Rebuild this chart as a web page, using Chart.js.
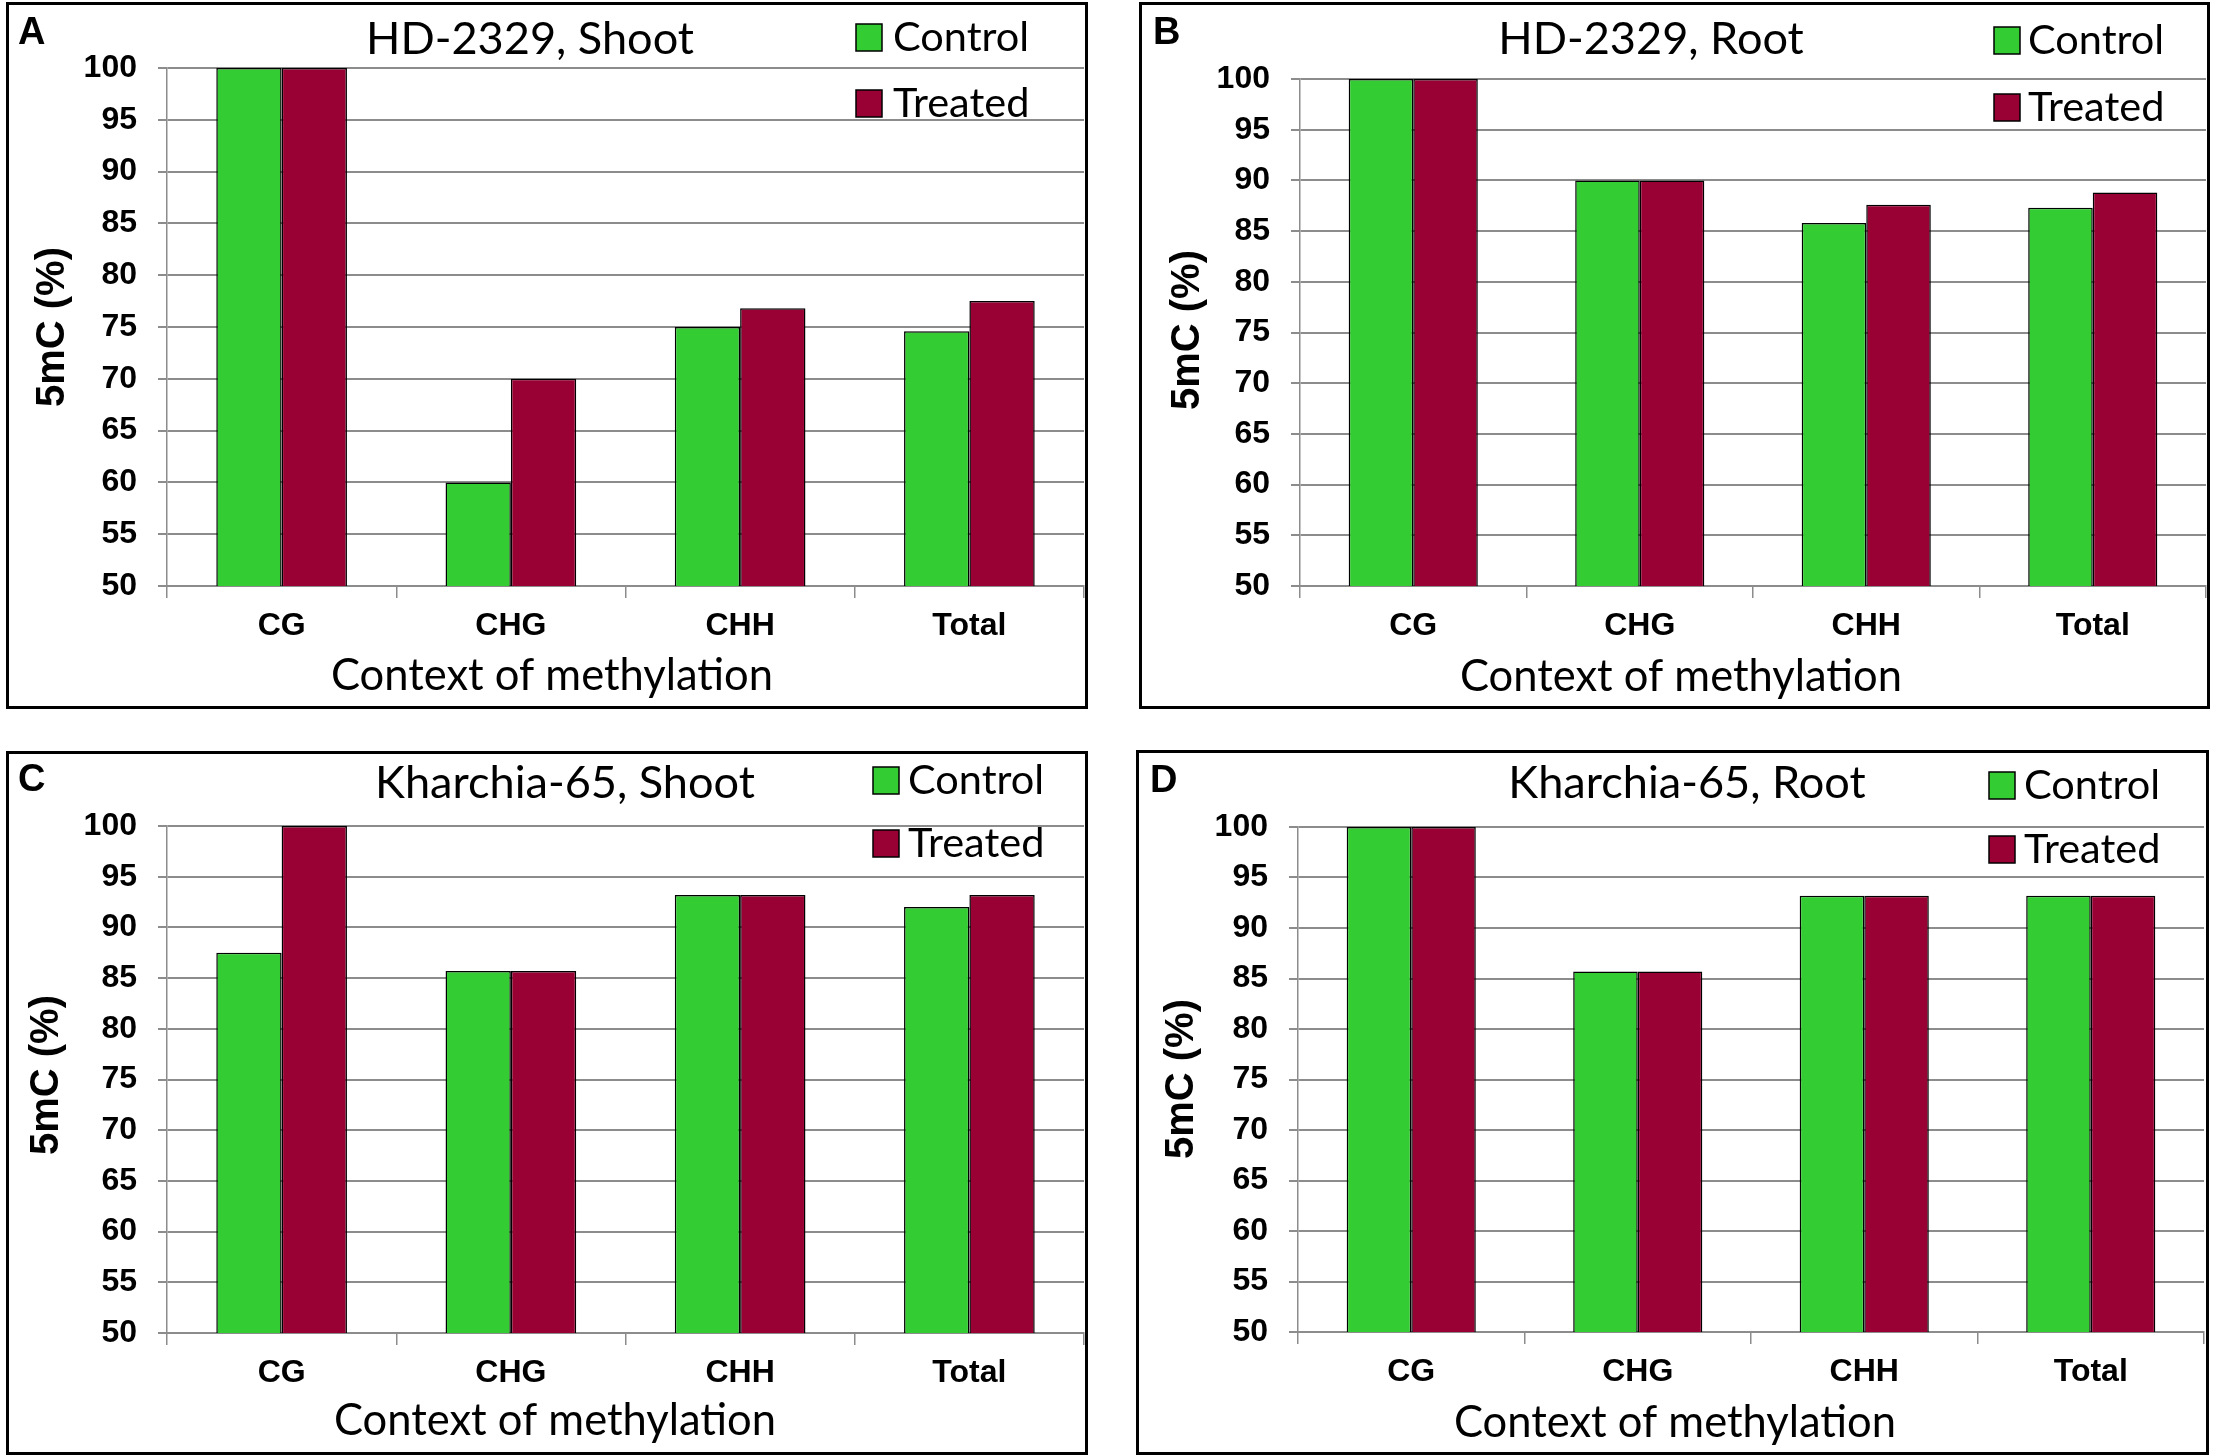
<!DOCTYPE html>
<html>
<head>
<meta charset="utf-8">
<script src="https://cdn.jsdelivr.net/npm/chart.js@4.4.1/dist/chart.umd.min.js"></script>
<style>
  html, body { margin: 0; padding: 0; background: #fff; }
  body { width: 2213px; height: 1456px; position: relative; overflow: hidden; }
  .panel { position: absolute; border: 3px solid #000; box-sizing: border-box; background: #fff; }
  .panel canvas { position: absolute; left: 0; top: 0; }
</style>
</head>
<body>
<div class="panel" id="pA"><canvas id="chartA"></canvas></div>
<div class="panel" id="pB"><canvas id="chartB"></canvas></div>
<div class="panel" id="pC"><canvas id="chartC"></canvas></div>
<div class="panel" id="pD"><canvas id="chartD"></canvas></div>
<script>
// data
var categories = ['CG', 'CHG', 'CHH', 'Total'];
var seriesNames = ['Control', 'Treated'];
var yMin = 50, yMax = 100, yStep = 5;

var hdShootControl = [100, 60, 75.0, 74.6];
var hdShootTreated = [100, 70, 76.8, 77.5];
var hdRootControl = [100, 90, 85.8, 87.3];
var hdRootTreated = [100, 90, 87.6, 88.8];
var khShootControl = [87.5, 85.7, 93.2, 92.0];
var khShootTreated = [100, 85.7, 93.2, 93.2];
var khRootControl = [100, 85.7, 93.2, 93.2];
var khRootTreated = [100, 85.7, 93.2, 93.2];

var GREEN = '#33cc33';
var RED = '#990033';
var GRID = '#8c8c8c';
var SANS = 'Lato, "Open Sans", sans-serif';

// pick a font size so that a sample string gets a given width
function fitSize(ctx, sample, family, target) {
    ctx.font = '100px ' + family;
    return Math.round(100 * target / ctx.measureText(sample).width * 10) / 10;
}

// draws panel letter, title, legend and axis titles at fixed spots
var panelText = {
    id: 'panelText',
    afterDraw: function (chart, args, o) {
        var c = chart.ctx;
        var ox = o.origin[0], oy = o.origin[1];
        c.save();
        var titleSize = fitSize(c, 'HD-2329, Shoot', SANS, 328);
        var legendSize = fitSize(c, 'Control', SANS, 136);
        var xTitleSize = fitSize(c, 'Context of methylation', SANS, 442);

        c.fillStyle = '#000';
        c.textBaseline = 'middle';

        c.font = 'bold 38px "Liberation Sans", Arial, sans-serif';
        c.textAlign = 'left';
        c.fillText(o.letter, o.letterPos[0] - ox, o.letterPos[1] - oy);

        c.font = titleSize + 'px ' + SANS;
        c.textAlign = 'center';
        c.fillText(o.title, o.titlePos[0] - ox, o.titlePos[1] - oy);

        c.font = xTitleSize + 'px ' + SANS;
        c.fillText('Context of methylation', o.xTitlePos[0] - ox, o.xTitlePos[1] - oy);

        c.save();
        c.translate(o.yTitlePos[0] - ox, o.yTitlePos[1] - oy);
        c.rotate(-Math.PI / 2);
        c.font = 'bold 40px "Liberation Sans", Arial, sans-serif';
        c.fillText('5mC (%)', 0, 0);
        c.restore();

        // legend
        c.font = legendSize + 'px ' + SANS;
        c.textAlign = 'left';
        chart.data.datasets.forEach(function (ds, i) {
            var y = o.legendY[i] - oy;
            var x = o.legendX - ox;
            c.fillStyle = ds.backgroundColor;
            c.fillRect(x, y - 13, 26, 27);
            c.lineWidth = 1.5;
            c.strokeStyle = '#000';
            c.strokeRect(x, y - 13, 26, 27);
            c.fillStyle = '#000';
            c.fillText(ds.label, o.legendTextX - ox, y + 1);
        });
        c.restore();
    }
};

function makeChart(id, panelId, box, plot, control, treated, text) {
    var el = document.getElementById(panelId);
    el.style.left = box[0] + 'px';
    el.style.top = box[1] + 'px';
    el.style.width = box[2] + 'px';
    el.style.height = box[3] + 'px';

    var innerL = box[0] + 3, innerT = box[1] + 3;
    var innerW = box[2] - 6, innerH = box[3] - 6;
    var canvas = document.getElementById(id);
    canvas.width = innerW;
    canvas.height = innerH;

    text.origin = [innerL, innerT];

    return new Chart(canvas.getContext('2d'), {
        type: 'bar',
        data: {
            labels: categories,
            datasets: [{
                label: seriesNames[0],
                data: control,
                backgroundColor: GREEN,
                borderColor: '#000',
                borderWidth: 1.5
            }, {
                label: seriesNames[1],
                data: treated,
                backgroundColor: RED,
                borderColor: '#000',
                borderWidth: 1.5
            }]
        },
        options: {
            responsive: false,
            animation: false,
            devicePixelRatio: 1,
            datasets: {
                bar: { categoryPercentage: 0.57, barPercentage: 1.0 }
            },
            layout: {
                padding: {
                    top: plot[1] - innerT,
                    right: innerL + innerW - plot[2],
                    left: 0,
                    bottom: 0
                }
            },
            plugins: {
                legend: { display: false },
                title: { display: false },
                tooltip: { enabled: false },
                panelText: text
            },
            scales: {
                y: {
                    min: yMin,
                    max: yMax,
                    ticks: {
                        stepSize: yStep,
                        color: '#000',
                        padding: 21,
                        font: { family: '"Liberation Sans", Arial', size: 32, weight: 'bold' }
                    },
                    grid: { color: GRID, lineWidth: 2, tickLength: 9 },
                    border: { color: GRID, width: 1.5 },
                    afterFit: function (s) { s.width = plot[0] - innerL; }
                },
                x: {
                    ticks: {
                        color: '#000',
                        padding: 9,
                        font: { family: '"Liberation Sans", Arial', size: 32, weight: 'bold' }
                    },
                    grid: { drawOnChartArea: false, color: GRID, lineWidth: 1.5, tickLength: 12, offset: true },
                    border: { color: GRID, width: 2 },
                    afterFit: function (s) { s.height = innerT + innerH - plot[3]; }
                }
            }
        },
        plugins: [panelText]
    });
}

makeChart('chartA', 'pA', [6, 2, 1082, 707], [167, 68, 1084, 586],
    hdShootControl, hdShootTreated, {
        letter: 'A', letterPos: [18, 34], title: 'HD-2329, Shoot', titlePos: [530, 39],
        legendX: 856, legendY: [37, 103], legendTextX: 893,
        xTitlePos: [552, 676], yTitlePos: [53, 327]
    });

makeChart('chartB', 'pB', [1139, 2, 1071, 707], [1300, 79, 2206, 586],
    hdRootControl, hdRootTreated, {
        letter: 'B', letterPos: [1153, 34], title: 'HD-2329, Root', titlePos: [1651, 39],
        legendX: 1994, legendY: [40, 107], legendTextX: 2028,
        xTitlePos: [1681, 677], yTitlePos: [1188, 330]
    });

makeChart('chartC', 'pC', [6, 751, 1082, 704], [167, 826, 1084, 1333],
    khShootControl, khShootTreated, {
        letter: 'C', letterPos: [18, 781], title: 'Kharchia-65, Shoot', titlePos: [565, 783],
        legendX: 873, legendY: [780, 843], legendTextX: 908,
        xTitlePos: [555, 1421], yTitlePos: [47, 1075]
    });

makeChart('chartD', 'pD', [1136, 750, 1073, 705], [1298, 827, 2204, 1332],
    khRootControl, khRootTreated, {
        letter: 'D', letterPos: [1150, 782], title: 'Kharchia-65, Root', titlePos: [1687, 783],
        legendX: 1989, legendY: [785, 849], legendTextX: 2024,
        xTitlePos: [1675, 1423], yTitlePos: [1182, 1079]
    });
</script>
</body>
</html>
